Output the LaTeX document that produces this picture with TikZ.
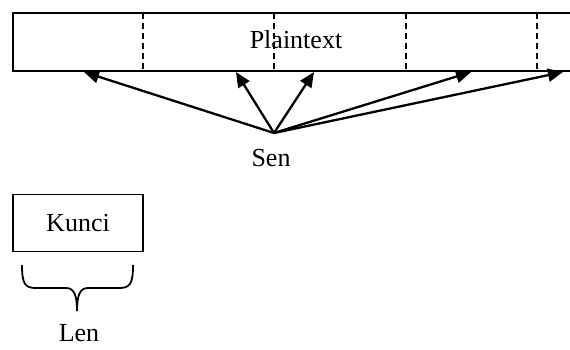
\documentclass[tikz,border=0pt]{standalone}
\usepackage{fontspec}
\setmainfont{Liberation Serif}
\usetikzlibrary{arrows.meta}
\begin{document}
\begin{tikzpicture}[x=1pt,y=-1pt,
  lbl/.style={font=\fontsize{26}{30}\selectfont, inner sep=0pt},
  frame/.style={line width=2pt},
  divider/.style={line width=1.6pt, dash pattern=on 6pt off 4pt},
  ptr/.style={line width=2.3pt, -{Triangle[length=15pt,width=13pt]}},
  keybox/.style={draw, line width=1.8pt, minimum width=130pt, minimum height=57pt, inner sep=0pt}]
\useasboundingbox (0,0) rectangle (570,349);

% plaintext strip, open on the right
\draw[frame] (570,13) -- (13,13) -- (13,71) -- (570,71);
\foreach \x in {143,274,406,537}
  \draw[divider] (\x,13) -- (\x,71);
\node[lbl] (plain) at (296,40) {Plaintext};

% arrow targets along the bottom of the strip
\coordinate (t1) at (84,72);
\coordinate (t2) at (236,72);
\coordinate (t3) at (314,72);
\coordinate (t4) at (471,72);
\coordinate (t5) at (563,72);

% sen source
\coordinate (src) at (274,133);
\node[lbl] (sen) at (271,158.5) {Sen};
\foreach \t in {t1,t2,t3,t4,t5}
  \draw[ptr] (src) -- (\t);

% key box with its length brace
\node[keybox, lbl] (kunci) at (78,223) {Kunci};
\draw[line width=1.8pt] (22,265) .. controls (22,284) and (25,288) .. (36,288)
  -- (66,288) .. controls (74,288) and (77,295) .. (77,311)
  .. controls (77,295) and (80,288) .. (88,288)
  -- (119,288) .. controls (130,288) and (133,284) .. (133,265);
\node[lbl] (len) at (79,333) {Len};
\end{tikzpicture}
\end{document}
